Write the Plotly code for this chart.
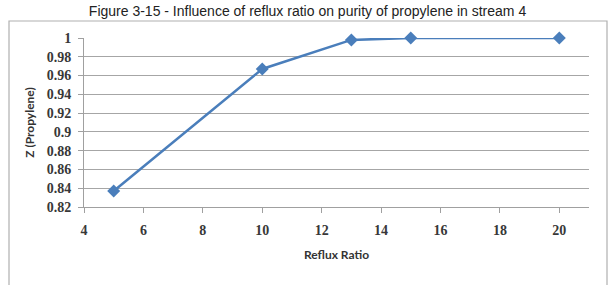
import plotly.graph_objects as go

reflux_ratio = [5, 10, 13, 15, 20]
z_propylene = [0.837, 0.967, 0.998, 1.0, 1.0]
x_ticks = [4, 6, 8, 10, 12, 14, 16, 18, 20]
y_ticks = [0.82, 0.84, 0.86, 0.88, 0.9, 0.92, 0.94, 0.96, 0.98, 1]
y_tick_text = ["0.82", "0.84", "0.86", "0.88", "0.9", "0.92", "0.94", "0.96", "0.98", "1"]

L, R, T, B = 84, 26, 38, 78
W, H = 615, 285
pw, ph = W - L - R, H - T - B

def px(x):
    return (x - L) / pw

def py(y):
    return (H - B - y) / ph

fig = go.Figure()
fig.add_trace(go.Scatter(
    x=reflux_ratio, y=z_propylene, mode="lines+markers",
    line=dict(color="#4a7ebb", width=2.5),
    marker=dict(symbol="diamond", size=10, color="#4a7ebb"),
    cliponaxis=False, showlegend=False,
))

tickfont = dict(family="Liberation Serif", size=14, color="#383838", weight="bold")
fig.update_layout(
    width=W, height=H,
    margin=dict(l=L, r=R, t=T, b=B),
    paper_bgcolor="white", plot_bgcolor="white",
    title=dict(text="Figure 3-15 - Influence of reflux ratio on purity of propylene in stream 4",
               x=0.5, xanchor="center", y=1 - 11 / H, yanchor="middle",
               font=dict(family="Liberation Sans", size=14, color="#222")),
    xaxis=dict(range=[4, 21], tickvals=x_ticks, showgrid=False, zeroline=False,
               showline=True, linecolor="#a0a0a0", linewidth=1,
               ticks="outside", ticklen=5, tickcolor="#a0a0a0",
               tickfont=tickfont, ticklabelstandoff=5,
               title=dict(text="<b>Reflux Ratio</b>", standoff=13,
                          font=dict(family="Lato", size=12, color="#333"))),
    yaxis=dict(range=[0.82, 1.0], tickvals=y_ticks, ticktext=y_tick_text,
               showgrid=True, gridcolor="#a6a6a6", gridwidth=1, zeroline=False,
               showline=True, linecolor="#a0a0a0", linewidth=1,
               ticks="outside", ticklen=5, tickcolor="#a0a0a0",
               tickfont=tickfont, ticklabelstandoff=4,
               title=dict(text="<b>Z (Propylene)</b>", standoff=9,
                          font=dict(family="Lato", size=12, color="#333"))),
    shapes=[dict(type="rect", xref="paper", yref="paper",
                 x0=px(9), x1=px(607), y0=py(290), y1=py(21),
                 line=dict(color="#b0b0b0", width=1.2), layer="below")],
)

fig.write_html("out.html")
